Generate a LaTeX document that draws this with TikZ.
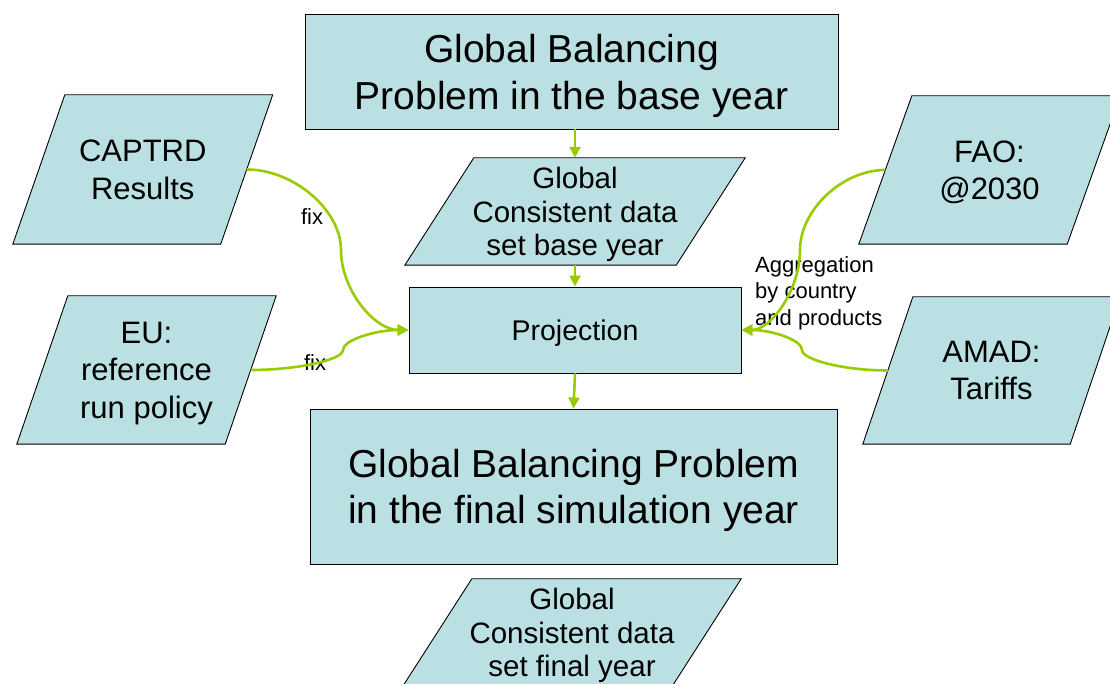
\documentclass[tikz,border=0pt]{standalone}
\usepackage{fontspec}
\setmainfont{Liberation Sans}
\usetikzlibrary{arrows.meta,backgrounds}
\definecolor{boxblue}{RGB}{187,224,227}
\definecolor{flowgreen}{RGB}{153,204,0}

\begin{document}
\begin{tikzpicture}[x=1pt,y=1pt,
    box/.style={draw=black,line width=0.9pt,fill=boxblue,inner sep=0pt,align=center,text depth=0pt},
    datatext/.style={inner sep=0pt,align=center,text depth=0pt},
    datafill/.style={draw=black,line width=0.9pt,fill=boxblue},
    flow/.style={draw=flowgreen,line width=2.6pt,-{Triangle[length=11pt,width=11pt]}},
    note/.style={inner sep=0pt,align=left,font=\fontsize{22}{26.5}\selectfont}]
      \useasboundingbox (0,0) rectangle (1110,684);
      \clip (0,0) rectangle (1110,684);
      \node[box,minimum width=533pt,minimum height=115pt,font=\fontsize{39}{47}\selectfont]
        (basetop) at (571.5,612.5) {Global Balancing\\Problem in the base year};
      \node[box,minimum width=332pt,minimum height=86pt,font=\fontsize{28.5}{33}\selectfont]
        (proj) at (575,354) {Projection};
      \node[box,minimum width=527pt,minimum height=155pt,font=\fontsize{39}{46}\selectfont]
        (finalbox) at (573.5,197.5) {Global Balancing Problem\\in the final simulation year};
      \node[datatext,minimum width=271pt,minimum height=107pt,font=\fontsize{29.5}{33.5}\selectfont]
        (basedata) at (575,472.5) {Global\\Consistent data\\set base year};
      \node[datatext,minimum width=269pt,minimum height=107pt,font=\fontsize{29.5}{33.5}\selectfont]
        (finaldata) at (572,51.5) {Global\\Consistent data\\set final year};
      \node[datatext,minimum width=207.5pt,minimum height=149pt,font=\fontsize{31}{37.5}\selectfont]
        (captrd) at (142.75,514.5) {CAPTRD\\Results};
      \node[datatext,minimum width=208pt,minimum height=148pt,font=\fontsize{31}{37.5}\selectfont]
        (eu) at (146.5,314) {EU:\\reference\\run policy};
      \node[datatext,minimum width=208pt,minimum height=148pt,font=\fontsize{31}{37.5}\selectfont]
        (fao) at (989.5,514) {FAO:\\@2030};
      \node[datatext,minimum width=207pt,minimum height=147pt,font=\fontsize{31}{37.5}\selectfont]
        (amad) at (991.5,313.5) {AMAD:\\Tariffs};
      \begin{scope}[on background layer]
        \foreach \n/\sl in {captrd/26,eu/25.5,fao/26.5,amad/25,basedata/34.5,finaldata/34.5}
          \draw[datafill] ([xshift=-\sl pt]\n.south west) -- ([xshift=-\sl pt]\n.south east)
            -- ([xshift=\sl pt]\n.north east) -- ([xshift=\sl pt]\n.north west) -- cycle;
      \end{scope}
      \coordinate (fixa) at (341,434);
      \coordinate (fixb) at (343,334);
      \coordinate (agga) at (800,434);
      \coordinate (aggb) at (802,334);
      \node[note] (fixtop) at (312,467) {fix};
      \node[note] (fixlow) at (315,321) {fix};
      \node[note,anchor=west] (aggnote) at (755,391) {Aggregation\\by country\\and products};
      \begin{scope}[flow]
        \draw (basedata.north |- basetop.south) -- (basedata.north);
        \draw (basedata.south) -- (proj.north);
        \draw (proj.south) -- (finalbox.north);
        \draw (captrd.east) .. controls +(47,0) and +(0,40) .. (fixa)
          .. controls +(0,-40) and +(-34,0) .. (proj.west);
        \draw (eu.east) .. controls +(46,0) and +(0,-10) .. (fixb)
          .. controls +(0,10) and +(-33,0) .. (proj.west);
        \draw (fao.west) .. controls +(-43,0) and +(0,40) .. (agga)
          .. controls +(0,-40) and +(29.5,0) .. (proj.east);
        \draw (amad.west) .. controls +(-43,0) and +(0,-10) .. (aggb)
          .. controls +(0,10) and +(30.5,0) .. (proj.east);
      \end{scope}
    \end{tikzpicture}
\end{document}
